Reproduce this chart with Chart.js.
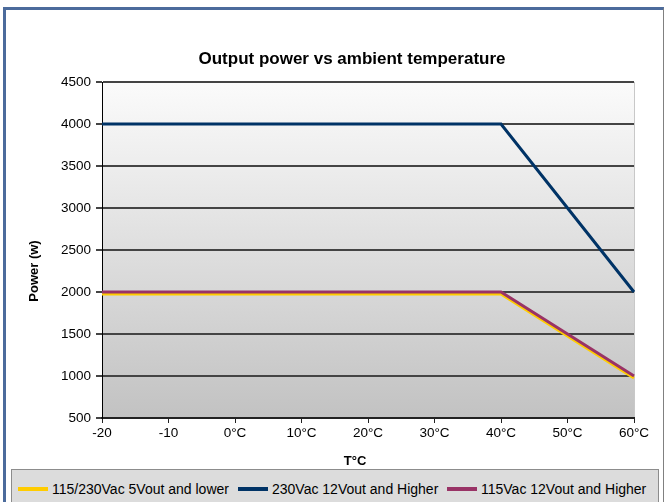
<!DOCTYPE html>
<html>
<head>
<meta charset="utf-8">
<script src="https://cdn.jsdelivr.net/npm/chart.js@4"></script>
<style>
  html, body { margin: 0; padding: 0; background: #fff; }
  body { width: 665px; height: 502px; position: relative; overflow: hidden; font-family: Arial, "Liberation Sans", sans-serif; }
  #frame { position: absolute; left: 3px; top: 7px; width: 657px; height: 500px; border-top: 3px solid #4c6b9c; border-left: 3px solid #4c6b9c; border-right: 1px solid #808080; }
  #chartBox { position: absolute; left: 0; top: 0; width: 665px; height: 502px; }
  #legend { position: absolute; left: 11px; top: 469px; width: 646px; height: 40px; background: #dcdcdc; border: 1px solid #8c8c8c; font-size: 14px; color: #000; }
  #legend .item { position: absolute; top: 11px; white-space: nowrap; }
  #legend .swatch { display: inline-block; width: 30px; height: 4px; vertical-align: middle; margin-right: 4px; position: relative; top: -1px; }
</style>
</head>
<body>
<div id="frame"></div>
<div id="chartBox"><canvas id="powerChart" width="665" height="502"></canvas></div>
<div id="legend"></div>

<script>
// data
const tempLabels = ['-20', '-10', '0°C', '10°C', '20°C', '30°C', '40°C', '50°C', '60°C'];
const seriesNames = ['115/230Vac 5Vout and lower', '230Vac 12Vout and Higher', '115Vac 12Vout and Higher'];
const lowVoutPower = [1975, 1975, 1975, 1975, 1975, 1975, 1975, 1475, 975];
const highVout230Power = [4000, 4000, 4000, 4000, 4000, 4000, 4000, 3000, 2000];
const highVout115Power = [2000, 2000, 2000, 2000, 2000, 2000, 2000, 1500, 1000];
const seriesColors = ['#ffcc00', '#003366', '#993366'];
const legendX = [6, 226, 435];

const FONT = 'Arial, "Liberation Sans", sans-serif';

// gradient plot background + right edge + titles
const backdrop = {
    id: 'backdrop',
    beforeDraw(chart) {
        const { ctx, chartArea: a } = chart;
        ctx.save();
        const g = ctx.createLinearGradient(0, a.top, 0, a.bottom);
        g.addColorStop(0, '#fbfbfb');
        g.addColorStop(1, '#c2c2c2');
        ctx.fillStyle = g;
        ctx.fillRect(a.left, a.top, a.right - a.left, a.bottom - a.top);
        ctx.strokeStyle = '#c8c8c8';
        ctx.lineWidth = 1;
        ctx.beginPath();
        ctx.moveTo(a.right + 0.5, a.top);
        ctx.lineTo(a.right + 0.5, a.bottom);
        ctx.stroke();
        ctx.restore();
    },
    afterDraw(chart) {
        const { ctx } = chart;
        ctx.save();
        ctx.fillStyle = '#000';
        ctx.textAlign = 'center';
        ctx.textBaseline = 'middle';
        ctx.font = 'bold 17px ' + FONT;
        ctx.fillText('Output power vs ambient temperature', 352, 59);
        ctx.font = 'bold 13px ' + FONT;
        ctx.fillText('T°C', 355, 461);
        ctx.translate(34, 271);
        ctx.rotate(-Math.PI / 2);
        ctx.fillText('Power (w)', 0, 0);
        ctx.restore();
    }
};

const ctx = document.getElementById('powerChart').getContext('2d');
new Chart(ctx, {
    type: 'line',
    data: {
        labels: tempLabels,
        datasets: [
            { label: seriesNames[0], data: lowVoutPower, borderColor: seriesColors[0], backgroundColor: seriesColors[0], borderWidth: 3, order: 2 },
            { label: seriesNames[1], data: highVout230Power, borderColor: seriesColors[1], backgroundColor: seriesColors[1], borderWidth: 3, order: 1 },
            { label: seriesNames[2], data: highVout115Power, borderColor: seriesColors[2], backgroundColor: seriesColors[2], borderWidth: 3, order: 0 }
        ]
    },
    options: {
        responsive: false,
        animation: false,
        events: [],
        elements: { point: { radius: 0 }, line: { tension: 0, borderCapStyle: 'butt', borderJoinStyle: 'miter' } },
        layout: { padding: { top: 82, left: 0, right: 31, bottom: 54 } },
        plugins: { legend: { display: false }, title: { display: false }, tooltip: { enabled: false } },
        scales: {
            x: {
                offset: false,
                afterFit: (s) => { s.height = 30; },
                grid: { drawOnChartArea: false, drawTicks: true, tickLength: 5, color: '#222', lineWidth: 1 },
                border: { display: true, color: '#222', width: 2 },
                ticks: { color: '#000', font: { family: FONT, size: 13.5 }, padding: 2, maxRotation: 0, autoSkip: false }
            },
            y: {
                min: 500,
                max: 4500,
                afterFit: (s) => { s.width = 102; },
                grid: { color: '#444', lineWidth: 2, tickLength: 6 },
                border: { display: true, color: '#000', width: 1 },
                ticks: { stepSize: 500, color: '#000', font: { family: FONT, size: 13.5 }, padding: 5, callback: (v) => String(v) }
            }
        }
    },
    plugins: [backdrop]
});

// legend box below the plot
const legend = document.getElementById('legend');
seriesNames.forEach((name, i) => {
    const item = document.createElement('div');
    item.className = 'item';
    item.style.left = legendX[i] + 'px';
    item.innerHTML = `<span class="swatch" style="background:${seriesColors[i]}"></span>${name}`;
    legend.appendChild(item);
});
</script>
</body>
</html>
